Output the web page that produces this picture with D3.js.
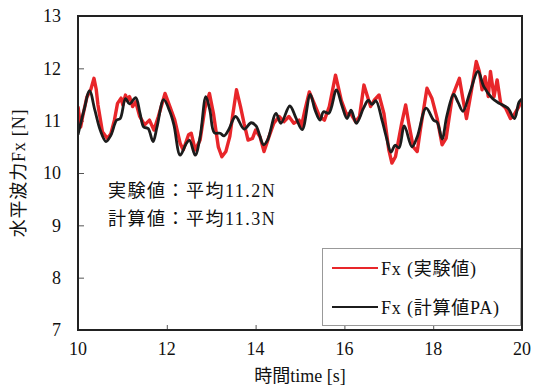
<!DOCTYPE html>
<html>
<head>
<meta charset="utf-8">
<script src="https://cdn.jsdelivr.net/npm/d3@7"></script>
<style>
  body { margin: 0; background: #fff; }
  text { font-family: "Liberation Serif", "Noto Sans CJK JP", serif; fill: #111; }
</style>
</head>
<body>
<svg id="chart" width="537" height="390"></svg>
<script>
// measured force, time [s] / Fx [N]
var expT = [10.00,10.06,10.11,10.20,10.29,10.36,10.41,10.45,10.55,10.66,10.74,10.82,10.89,10.97,11.01,11.07,11.11,11.16,11.23,11.30,
  11.39,11.50,11.61,11.71,11.81,11.96,12.07,12.18,12.30,12.37,12.49,12.55,12.64,12.75,12.86,12.96,13.05,13.16,13.24,13.33,
  13.42,13.48,13.57,13.66,13.74,13.83,13.93,14.00,14.10,14.19,14.30,14.41,14.53,14.64,14.75,14.86,14.98,15.03,15.11,15.21,
  15.32,15.44,15.55,15.66,15.80,15.86,15.93,16.05,16.14,16.25,16.34,16.44,16.52,16.59,16.67,16.78,16.89,17.00,17.07,17.15,
  17.29,17.38,17.45,17.55,17.64,17.71,17.86,17.97,18.09,18.20,18.29,18.43,18.59,18.66,18.75,18.85,18.97,19.04,19.10,19.17,
  19.24,19.29,19.37,19.44,19.52,19.63,19.74,19.82,19.93,20.00];
var expFx = [11.27,10.88,11.10,11.45,11.60,11.81,11.60,11.30,10.79,10.66,10.75,11.01,11.33,11.43,11.30,11.49,11.39,11.46,11.27,11.36,
  11.08,10.92,11.01,10.82,11.08,11.52,11.27,11.01,10.57,10.44,10.73,10.76,10.44,10.63,11.24,11.52,11.14,10.50,10.31,10.41,
  10.70,11.08,11.59,11.27,10.95,10.63,10.66,10.82,10.69,10.41,10.69,10.95,11.08,10.98,11.08,10.95,11.01,10.88,11.20,11.55,
  11.33,11.08,11.01,11.27,11.87,11.65,11.39,11.11,11.14,10.98,11.08,11.68,11.46,11.27,11.39,11.49,11.14,10.44,10.19,10.31,
  10.95,11.30,10.95,10.50,10.41,10.82,11.62,11.43,11.04,10.54,10.66,11.46,11.81,11.46,11.04,11.52,12.13,11.94,11.59,11.84,
  11.46,11.94,11.46,11.78,11.33,11.24,11.04,11.11,11.27,11.40];

// computed force (PA)
var calT = [10.00,10.135,10.26,10.38,10.50,10.63,10.74,10.87,10.95,11.07,11.16,11.30,11.395,11.48,11.58,11.69,11.78,11.93,12.07,12.16,
  12.30,12.43,12.51,12.64,12.75,12.88,12.97,13.07,13.20,13.29,13.39,13.55,13.74,13.90,14.01,14.18,14.27,14.46,14.57,14.77,
  14.91,15.05,15.23,15.34,15.45,15.53,15.65,15.82,15.94,16.06,16.15,16.27,16.43,16.54,16.62,16.71,16.85,16.94,17.05,17.14,
  17.23,17.35,17.52,17.64,17.84,18.01,18.09,18.20,18.31,18.46,18.56,18.67,18.83,19.01,19.14,19.33,19.49,19.68,19.83,19.93,20.00];
var calFx = [10.73,11.20,11.57,11.20,10.82,10.60,10.72,11.01,11.04,11.42,11.32,11.44,11.15,10.88,10.85,10.60,10.88,11.40,11.17,10.92,
  10.34,10.55,10.63,10.34,10.69,11.46,11.20,10.77,10.76,10.71,10.82,11.08,10.84,10.96,10.90,10.54,10.63,11.14,10.95,11.28,
  11.05,10.83,11.50,11.20,11.01,11.17,11.14,11.59,11.30,11.04,11.20,10.95,11.24,11.39,11.31,11.38,11.00,10.70,10.40,10.53,
  10.48,10.90,10.50,10.69,11.24,11.01,10.97,10.65,11.10,11.50,11.35,11.18,11.55,11.94,11.65,11.43,11.33,11.24,11.04,11.35,11.42];

var xTicks = [10,12,14,16,18,20];
var yTicks = [7,8,9,10,11,12,13];
var seriesNames = ["Fx (実験値)", "Fx (計算値PA)"];
var seriesColors = ["#e8262a", "#1c1c1c"];
var notes = ["実験値：平均11.2N", "計算値：平均11.3N"];

var svg = d3.select("#chart");
var m = {left: 78, top: 16, right: 522, bottom: 330};

var x = d3.scaleLinear().domain([10,20]).range([m.left, m.right]);
var y = d3.scaleLinear().domain([7,13]).range([m.bottom, m.top]);

// ticks (inside)
svg.append("g")
    .attr("transform", `translate(0,${m.bottom})`)
    .call(d3.axisTop(x).tickValues(xTicks.slice(1,-1)).tickSize(5).tickFormat(""))
    .call(g => g.select(".domain").remove())
    .selectAll("line").attr("stroke", "#555");
svg.append("g")
    .attr("transform", `translate(${m.left},0)`)
    .call(d3.axisRight(y).tickValues(yTicks.slice(1,-1)).tickSize(6).tickFormat(""))
    .call(g => g.select(".domain").remove())
    .selectAll("line").attr("stroke", "#555");

// tick labels
svg.append("g").selectAll("text").data(xTicks).enter().append("text")
    .attr("x", d => x(d)).attr("y", 355)
    .attr("text-anchor", "middle").style("font-size", "18px")
    .text(d => d);
svg.append("g").selectAll("text").data(yTicks).enter().append("text")
    .attr("x", 61).attr("y", d => y(d)).attr("dy", "0.35em")
    .attr("text-anchor", "end").style("font-size", "18px")
    .text(d => d);

// lines
svg.append("clipPath").attr("id", "plotclip").append("rect")
    .attr("x", m.left).attr("y", m.top).attr("width", m.right - m.left).attr("height", m.bottom - m.top);

var expData = expT.map((t,i) => [t, expFx[i]]);
var calData = calT.map((t,i) => [t, calFx[i]]);

var lineExp = d3.line().x(d => x(d[0])).y(d => y(d[1])).curve(d3.curveLinear);
var lineCal = d3.line().x(d => x(d[0])).y(d => y(d[1])).curve(d3.curveCatmullRom.alpha(0.5));

var plot = svg.append("g").attr("clip-path", "url(#plotclip)");
plot.append("path").datum(expData)
    .attr("d", lineExp).attr("fill", "none")
    .attr("stroke", seriesColors[0]).attr("stroke-width", 3.4).attr("stroke-linejoin", "round");
plot.append("path").datum(calData)
    .attr("d", lineCal).attr("fill", "none")
    .attr("stroke", seriesColors[1]).attr("stroke-width", 2.8).attr("stroke-linejoin", "round");

// frame
svg.append("rect")
    .attr("x", m.left).attr("y", m.top)
    .attr("width", m.right - m.left).attr("height", m.bottom - m.top)
    .attr("fill", "none").attr("stroke", "#222").attr("stroke-width", 2);

// annotation
svg.append("g").selectAll("text").data(notes).enter().append("text")
    .attr("x", 108).attr("y", (d,i) => 197 + i*28)
    .style("font-size", "18px").style("letter-spacing", "1.5px")
    .text(d => d);

// legend
var leg = svg.append("g");
leg.append("rect").attr("x", 322.5).attr("y", 248.5).attr("width", 198).attr("height", 77)
    .attr("fill", "#fff").attr("stroke", "#999").attr("stroke-width", 1);
var li = leg.selectAll("g.item").data(seriesNames).enter().append("g").attr("class", "item")
    .attr("transform", (d,i) => `translate(0,${268 + i*39})`);
li.append("line").attr("x1", 332).attr("x2", 378).attr("y1", 0).attr("y2", 0)
    .attr("stroke", (d,i) => seriesColors[i]).attr("stroke-width", 2);
li.append("text").attr("x", 381).attr("y", 7)
    .style("font-size", "18px").style("letter-spacing", "0.8px")
    .text(d => d);

// axis titles
svg.append("text")
    .attr("x", (m.left + m.right) / 2).attr("y", 382)
    .attr("text-anchor", "middle").style("font-size", "18px")
    .text("時間time [s]");
svg.append("text")
    .attr("transform", `translate(25,${(m.top + m.bottom) / 2}) rotate(-90)`)
    .attr("text-anchor", "middle").style("font-size", "18px").style("letter-spacing", "0.8px")
    .text("水平波力Fx [N]");
</script>
</body>
</html>
